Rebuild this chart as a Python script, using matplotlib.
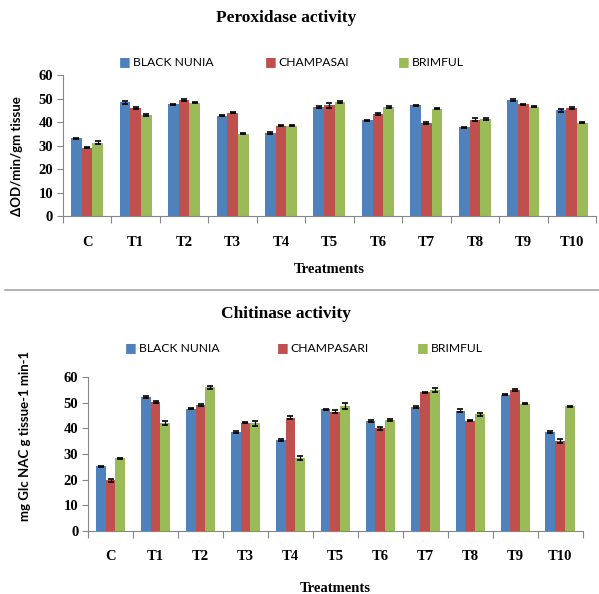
import numpy as np
import matplotlib.pyplot as plt
from matplotlib.lines import Line2D

# categorias y series
treatments = ['C', 'T1', 'T2', 'T3', 'T4', 'T5', 'T6', 'T7', 'T8', 'T9', 'T10']

# Peroxidase activity
pox_black = [33.2, 48.5, 47.8, 42.8, 35.5, 46.5, 40.8, 47.3, 37.9, 49.5, 45.2]
pox_champ = [29.2, 46.2, 49.6, 44.2, 38.6, 47.2, 43.5, 39.6, 41.2, 47.7, 46.2]
pox_brim = [31.3, 43.3, 48.4, 35.2, 38.6, 48.7, 46.6, 45.9, 41.5, 46.6, 39.8]
pox_black_err = [0.3, 0.7, 0.2, 0.3, 0.3, 0.3, 0.4, 0.3, 0.3, 0.4, 0.6]
pox_champ_err = [0.3, 0.5, 0.3, 0.3, 0.3, 1.0, 0.4, 0.4, 0.5, 0.3, 0.3]
pox_brim_err = [0.7, 0.4, 0.3, 0.2, 0.2, 0.3, 0.3, 0.3, 0.5, 0.2, 0.2]

# Chitinase activity
chi_black = [25.2, 52.2, 47.7, 38.6, 35.4, 47.4, 43.0, 48.4, 47.0, 53.2, 38.7]
chi_champ = [19.8, 50.4, 49.1, 42.2, 44.2, 46.6, 40.0, 54.2, 43.1, 55.0, 35.0]
chi_brim = [28.3, 42.1, 56.0, 42.1, 28.5, 48.9, 43.3, 55.1, 45.5, 49.6, 48.7]
chi_black_err = [0.3, 0.3, 0.3, 0.4, 0.4, 0.3, 0.3, 0.5, 0.4, 0.3, 0.4]
chi_champ_err = [0.5, 0.4, 0.3, 0.2, 0.5, 0.6, 0.5, 0.2, 0.3, 0.5, 0.8]
chi_brim_err = [0.3, 0.8, 0.5, 1.0, 0.8, 1.2, 0.3, 0.7, 0.5, 0.2, 0.2]

colors = ['#4F81BD', '#C0504D', '#9BBB59']
serif = 'Liberation Serif'
sans = 'Lato'
axis_gray = '#868686'

fig = plt.figure(figsize=(5.99, 5.94), dpi=100)


def draw_panel(ax, series, errs, names, title, ylabel, title_y, legend_y, leg_x):
    x = np.arange(len(treatments))
    w = 0.22
    for i in range(3):
        ax.bar(x + (i - 1) * w, series[i], w, color=colors[i], label=names[i],
               yerr=errs[i], error_kw=dict(ecolor='black', elinewidth=0.9, capsize=2.5, capthick=1.2),
               zorder=2)
    ax.set_xlim(-0.5, len(treatments) - 0.5)
    ax.set_ylim(0, 60)
    ax.set_yticks(range(0, 61, 10))
    ax.set_yticklabels([str(v) for v in range(0, 61, 10)], fontfamily=serif,
                       fontweight='bold', fontsize=10.5)
    # ticks entre categorias, etiquetas en el centro
    ax.set_xticks(np.arange(-0.5, len(treatments), 1.0))
    ax.set_xticklabels([])
    ax.set_xticks(x, minor=True)
    ax.set_xticklabels(treatments, minor=True, fontfamily=serif, fontweight='bold', fontsize=10.5)
    ax.tick_params(axis='x', which='major', direction='out', length=5, color=axis_gray)
    ax.tick_params(axis='x', which='minor', length=0, pad=14)
    ax.tick_params(axis='y', direction='out', length=4, color=axis_gray, pad=3)
    for s in ['top', 'right']:
        ax.spines[s].set_visible(False)
    for s in ['left', 'bottom']:
        ax.spines[s].set_color(axis_gray)
    ax.set_xlabel('Treatments', fontfamily=serif, fontweight='bold', fontsize=10.5, labelpad=8)
    ax.set_ylabel(ylabel, fontfamily=sans, fontweight='bold', fontsize=9.5)
    fig.text(286 / 599, title_y, title, ha='center', va='center', fontfamily=serif,
             fontweight='bold', fontsize=12.5)
    for i in range(3):
        fig.text(leg_x[i], legend_y, '\u25A0', color=colors[i], ha='center', va='center', fontsize=9)
        fig.text(leg_x[i] + 0.013, legend_y, names[i], ha='left', va='center',
                 fontfamily=sans, fontsize=8.7)


ax1 = fig.add_axes([0.105, 0.636, 0.89, 0.237])
draw_panel(ax1, [pox_black, pox_champ, pox_brim],
           [pox_black_err, pox_champ_err, pox_brim_err],
           ['BLACK NUNIA', 'CHAMPASAI', 'BRIMFUL'],
           'Peroxidase activity', '\u0394OD/min/gm tissue',
           1 - 18 / 594, 1 - 62 / 594, [125 / 599, 271 / 599, 404 / 599])
ax1.yaxis.set_label_coords(-0.075, 0.43)
ax1.xaxis.set_label_coords(0.5, -0.33)

ax2 = fig.add_axes([0.147, 0.106, 0.826, 0.259])
draw_panel(ax2, [chi_black, chi_champ, chi_brim],
           [chi_black_err, chi_champ_err, chi_brim_err],
           ['BLACK NUNIA', 'CHAMPASARI', 'BRIMFUL'],
           'Chitinase activity', 'mg Glc NAC g tissue-1 min-1',
           1 - 314 / 594, 1 - 348 / 594, [131 / 599, 283 / 599, 423 / 599])
ax2.yaxis.set_label_coords(-0.115, 0.62)
ax2.xaxis.set_label_coords(0.5, -0.33)

# linea separadora
fig.add_artist(Line2D([0.008, 1.0], [1 - 290 / 594, 1 - 290 / 594], color='#a6a6a6', lw=1.2))

plt.savefig('out.png', dpi=100)
